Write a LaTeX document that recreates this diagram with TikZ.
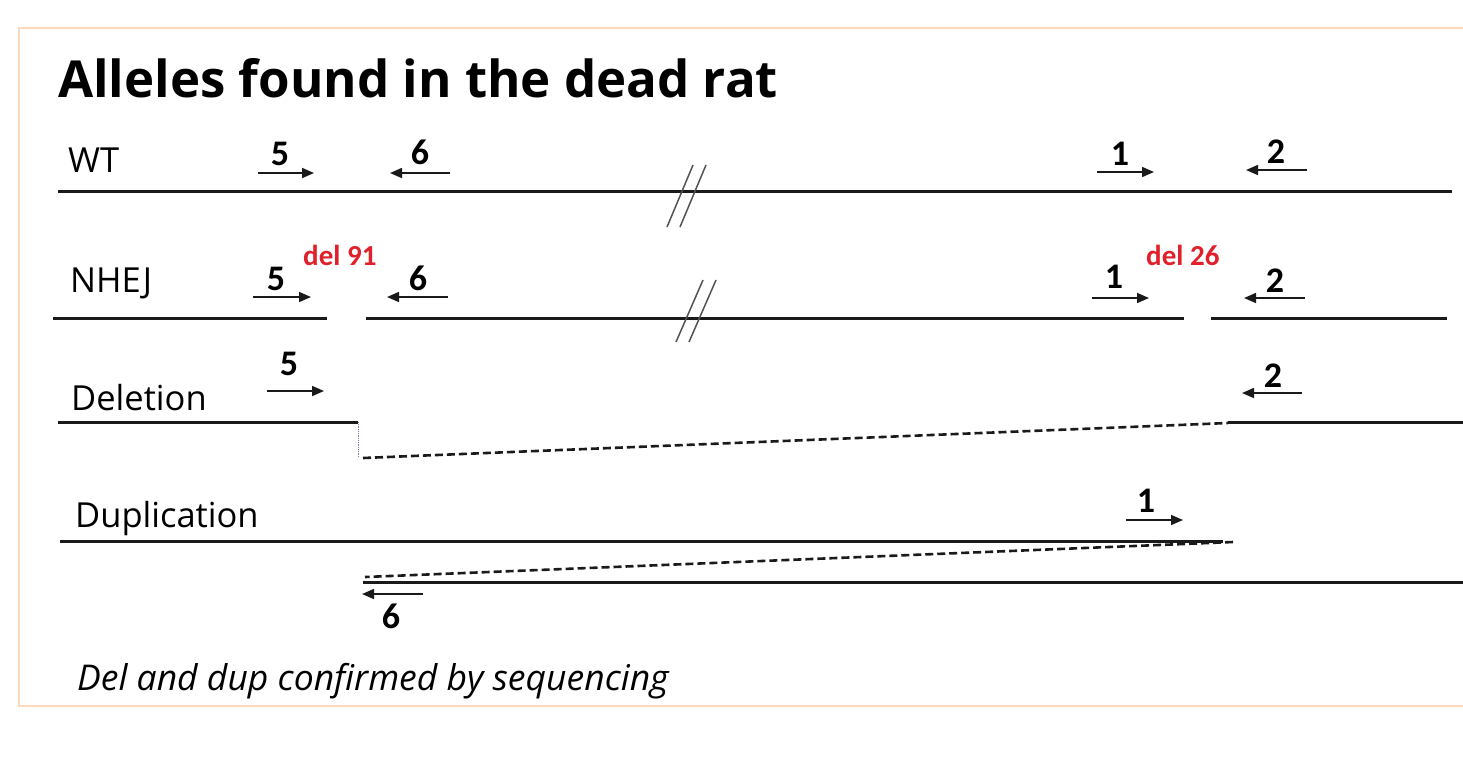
\documentclass[tikz,border=0pt]{standalone}
\usepackage{fontspec}
\setmainfont{Open Sans}
\newfontfamily\digitfont{Carlito}
\usetikzlibrary{arrows.meta}
\definecolor{ink}{HTML}{1A1A1A}
\definecolor{frameorange}{HTML}{FCD9BD}
\definecolor{delred}{HTML}{E0202A}

\begin{document}
\begin{tikzpicture}[x=1pt,y=-1pt,
  strand/.style={line width=3pt,ink},
  junction/.style={line width=2.6pt,ink,dash pattern=on 8pt off 4pt},
  primer/.style={line width=1.6pt,ink,-{Triangle[length=12pt,width=10pt]}},
  brk/.style={line width=1.5pt,ink!75},
  lbl/.style={anchor=base west,inner sep=0pt,font=\fontsize{34.5}{40}\selectfont},
  num/.style={anchor=base,inner sep=0pt,font=\digitfont\bfseries\fontsize{36}{40}\selectfont},
  dellbl/.style={anchor=base west,inner sep=0pt,text=delred,
    font=\digitfont\bfseries\fontsize{29}{32}\selectfont}]

\useasboundingbox (0,0) rectangle (1463,764);
\draw[frameorange,line width=2pt] (1463,28) -- (19,28) -- (19,706) -- (1463,706);

\node[anchor=base west,inner sep=0pt,font=\bfseries\fontsize{51}{60}\selectfont] (title)
  at (58,97) {Alleles found in the dead rat};

% row labels
\node[lbl] (wt) at (68,172) {WT};
\node[lbl] (nhej) at (70,292) {NHEJ};
\node[lbl] (deletion) at (71,410) {Deletion};
\node[lbl] (duplication) at (75,527) {Duplication};

% strand ends
\coordinate (wt-a) at (58,191);    \coordinate (wt-b) at (1452,191);
\coordinate (nh-a) at (53,318);    \coordinate (nh-b) at (327,318);
\coordinate (nh-c) at (366,318);   \coordinate (nh-d) at (1184,318);
\coordinate (nh-e) at (1211,318);  \coordinate (nh-f) at (1447,318);
\coordinate (dl-a) at (58,422);    \coordinate (dl-b) at (358,422);
\coordinate (dl-c) at (363,458);   \coordinate (dl-d) at (1228,423);
\coordinate (dl-e) at (1228,422);  \coordinate (dl-f) at (1463,422);
\coordinate (dp-a) at (60,541);    \coordinate (dp-b) at (1223,541);
\coordinate (dp-c) at (1233,542);  \coordinate (dp-d) at (365,577);
\coordinate (dp-e) at (363,582);   \coordinate (dp-f) at (1463,582);

\draw[strand] (wt-a) -- (wt-b);
\draw[strand] (nh-a) -- (nh-b);
\draw[strand] (nh-c) -- (nh-d);
\draw[strand] (nh-e) -- (nh-f);
\draw[strand] (dl-a) -- (dl-b);
\draw[line width=0.8pt,blue!30!gray!80,densely dotted] (dl-b) -- (dl-b |- dl-c);
\draw[junction] (dl-c) -- (dl-d);
\draw[strand] (dl-e) -- (dl-f);
\draw[strand] (dp-a) -- (dp-b);
\draw[junction] (dp-c) -- (dp-d);
\draw[strand] (dp-e) -- (dp-f);

% break marks
\draw[brk] (667,227) -- (693,165) (680,227) -- (706,165);
\draw[brk] (676,342) -- (703,280) (689,342) -- (716,280);

% deletions at the cut sites
\node[dellbl] (del91) at (303,265) {del 91};
\node[dellbl] (del26) at (1146,265) {del 26};

% primers: name/start/end/y/label x/label baseline/label
\foreach \n/\xa/\xb/\y/\tx/\ty/\t in {
  wt5/258/314/173/280/165/5, wt6/450/390/173/420/164/6,
  wt1/1097/1154/172/1120/165/1, wt2/1307/1246/170/1276/163/2,
  nh5/253/311/297/276/290/5, nh6/448/387/297/418/290/6,
  nh1/1092/1149/298/1114/288/1, nh2/1305/1244/298/1275/292/2,
  dl5/267/324/391/289/375/5, dl2/1302/1242/393/1273/387/2,
  dp1/1126/1183/520/1146/512/1, dp6/423/362/594/391/628/6}{
  \coordinate (\n-s) at (\xa,\y);
  \coordinate (\n-e) at (\xb,\y);
  \node[num] (\n) at (\tx,\ty) {\t};
  \draw[primer] (\n-s) -- (\n-e);
}

\node[anchor=base west,inner sep=0pt,font=\itshape\fontsize{35.5}{40}\selectfont] (note)
  at (77,690) {Del and dup confirmed by sequencing};
\end{tikzpicture}
\end{document}
